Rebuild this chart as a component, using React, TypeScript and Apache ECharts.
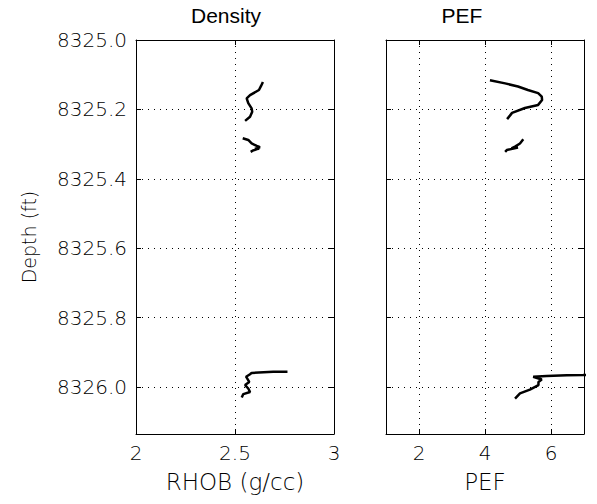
import React, { useEffect, useRef } from "react";
import * as echarts from "echarts";

// Tick values
const depthTicks = [8325.0, 8325.2, 8325.4, 8325.6, 8325.8, 8326.0];
const rhobTicks = [2, 2.5, 3];
const pefTicks = [2, 4, 6];

// Density (RHOB) log segments
const densityDepth1 = [8325.121, 8325.133, 8325.144, 8325.159, 8325.168, 8325.182, 8325.197, 8325.207, 8325.221, 8325.233];
const densityRhob1 = [2.641, 2.631, 2.621, 2.576, 2.559, 2.567, 2.584, 2.587, 2.576, 2.551];
const densityDepth2 = [8325.283, 8325.288, 8325.298, 8325.305, 8325.309, 8325.314, 8325.313, 8325.318, 8325.322];
const densityRhob2 = [2.539, 2.567, 2.584, 2.610, 2.626, 2.600, 2.622, 2.592, 2.579];
const densityDepth3 = [8326.030, 8326.020, 8326.014, 8326.004, 8325.994, 8325.985, 8325.970, 8325.963, 8325.959, 8325.956, 8325.956];
const densityRhob3 = [2.534, 2.542, 2.576, 2.567, 2.551, 2.572, 2.556, 2.576, 2.584, 2.693, 2.765];

// PEF log segments
const pefDepth1 = [8325.116, 8325.125, 8325.134, 8325.144, 8325.153, 8325.163, 8325.173, 8325.187, 8325.196, 8325.210, 8325.228];
const pefValue1 = [4.15, 4.61, 5.00, 5.30, 5.61, 5.72, 5.73, 5.61, 5.21, 4.82, 4.67];
const pefDepth2 = [8325.286, 8325.298, 8325.307, 8325.312, 8325.310, 8325.317, 8325.322];
const pefValue2 = [5.16, 5.06, 4.91, 4.80, 5.00, 4.66, 4.61];
const pefDepth3 = [8326.033, 8326.018, 8326.007, 8325.994, 8325.985, 8325.978, 8325.970, 8325.968, 8325.966, 8325.965, 8325.963];
const pefValue3 = [4.91, 5.06, 5.36, 5.62, 5.62, 5.72, 5.46, 5.87, 6.48, 6.97, 7.6];

const DEPTH_MIN = 8325.0;
const DEPTH_MAX = 8326.135;

const zip = (xs: number[], ys: number[]) => xs.map((x, i) => [x, ys[i]]);

const tickFont = { fontFamily: "DejaVu Sans", fontWeight: 200, fontSize: 20, color: "#000" };
const nameFont = { fontFamily: "DejaVu Sans", fontWeight: 200, fontSize: 23, color: "#000" };
const axisLine = { show: true, onZero: false, lineStyle: { color: "#000", width: 1 } };
const dotted = { show: true, lineStyle: { color: "#000", width: 1, type: [1, 5] as any } };

function xAxes(grid: number, min: number, max: number, ticks: number[], name: string) {
  return [
    {
      type: "value", gridIndex: grid, position: "bottom", min, max,
      axisLine,
      axisTick: { show: true, inside: true, length: 5, customValues: ticks, lineStyle: { color: "#000" } },
      axisLabel: { show: true, customValues: ticks, margin: 9, formatter: (v: number) => String(v), ...tickFont },
      splitLine: dotted,
      name, nameLocation: "middle", nameGap: 36, nameTextStyle: nameFont,
    },
    {
      type: "value", gridIndex: grid, position: "top", min, max,
      axisLine,
      axisTick: { show: true, inside: true, length: 5, customValues: ticks, lineStyle: { color: "#000" } },
      axisLabel: { show: false },
      splitLine: { show: false },
    },
  ];
}

function yAxes(grid: number, withLabels: boolean) {
  return [
    {
      type: "value", gridIndex: grid, position: "left", inverse: true, min: DEPTH_MIN, max: DEPTH_MAX,
      axisLine,
      axisTick: { show: true, inside: true, length: 5, customValues: depthTicks, lineStyle: { color: "#000" } },
      axisLabel: { show: withLabels, customValues: depthTicks, margin: 9, formatter: (v: number) => v.toFixed(1), ...tickFont },
      splitLine: dotted,
      ...(withLabels
        ? { name: "Depth (ft)", nameLocation: "middle", nameGap: 98, nameRotate: 90, nameTextStyle: { ...nameFont, fontSize: 19 } }
        : {}),
    },
    {
      type: "value", gridIndex: grid, position: "right", inverse: true, min: DEPTH_MIN, max: DEPTH_MAX,
      axisLine,
      axisTick: { show: true, inside: true, length: 5, customValues: depthTicks, lineStyle: { color: "#000" } },
      axisLabel: { show: false },
      splitLine: { show: false },
    },
  ];
}

function seg(xIdx: number, yIdx: number, xs: number[], ys: number[]) {
  return {
    type: "line", xAxisIndex: xIdx, yAxisIndex: yIdx, data: zip(xs, ys),
    showSymbol: false, symbol: "none", silent: true, clip: true,
    lineStyle: { color: "#000", width: 2.5 },
  };
}

export default function App() {
  const ref = useRef<HTMLDivElement>(null);
  useEffect(() => {
    const chart = echarts.init(ref.current!, null, { renderer: "svg" });
    const option: any = {
      animation: false,
      backgroundColor: "#fff",
      grid: [
        { left: 136, top: 40, width: 198, height: 394 },
        { left: 386, top: 40, width: 198, height: 394 },
      ],
      xAxis: [
        ...xAxes(0, 2, 3, rhobTicks, "RHOB (g/cc)"),
        ...xAxes(1, 1, 7, pefTicks, "PEF"),
      ],
      yAxis: [...yAxes(0, true), ...yAxes(1, false)],
      graphic: [
        { type: "text", x: 226, y: 15, style: { text: "Density", fontFamily: "Liberation Sans", fontSize: 21, fill: "#000", textAlign: "center", textVerticalAlign: "middle" } },
        { type: "text", x: 462, y: 15, style: { text: "PEF", fontFamily: "Liberation Sans", fontSize: 21, fill: "#000", textAlign: "center", textVerticalAlign: "middle" } },
      ],
      series: [
        seg(0, 0, densityRhob1, densityDepth1),
        seg(0, 0, densityRhob2, densityDepth2),
        seg(0, 0, densityRhob3, densityDepth3),
        seg(2, 2, pefValue1, pefDepth1),
        seg(2, 2, pefValue2, pefDepth2),
        seg(2, 2, pefValue3, pefDepth3),
      ],
    };
    chart.setOption(option);
    return () => chart.dispose();
  }, []);
  return (
    <div
      ref={ref}
      style={{ position: "fixed", left: 0, top: 0, width: 597, height: 504, background: "#fff" }}
    />
  );
}
